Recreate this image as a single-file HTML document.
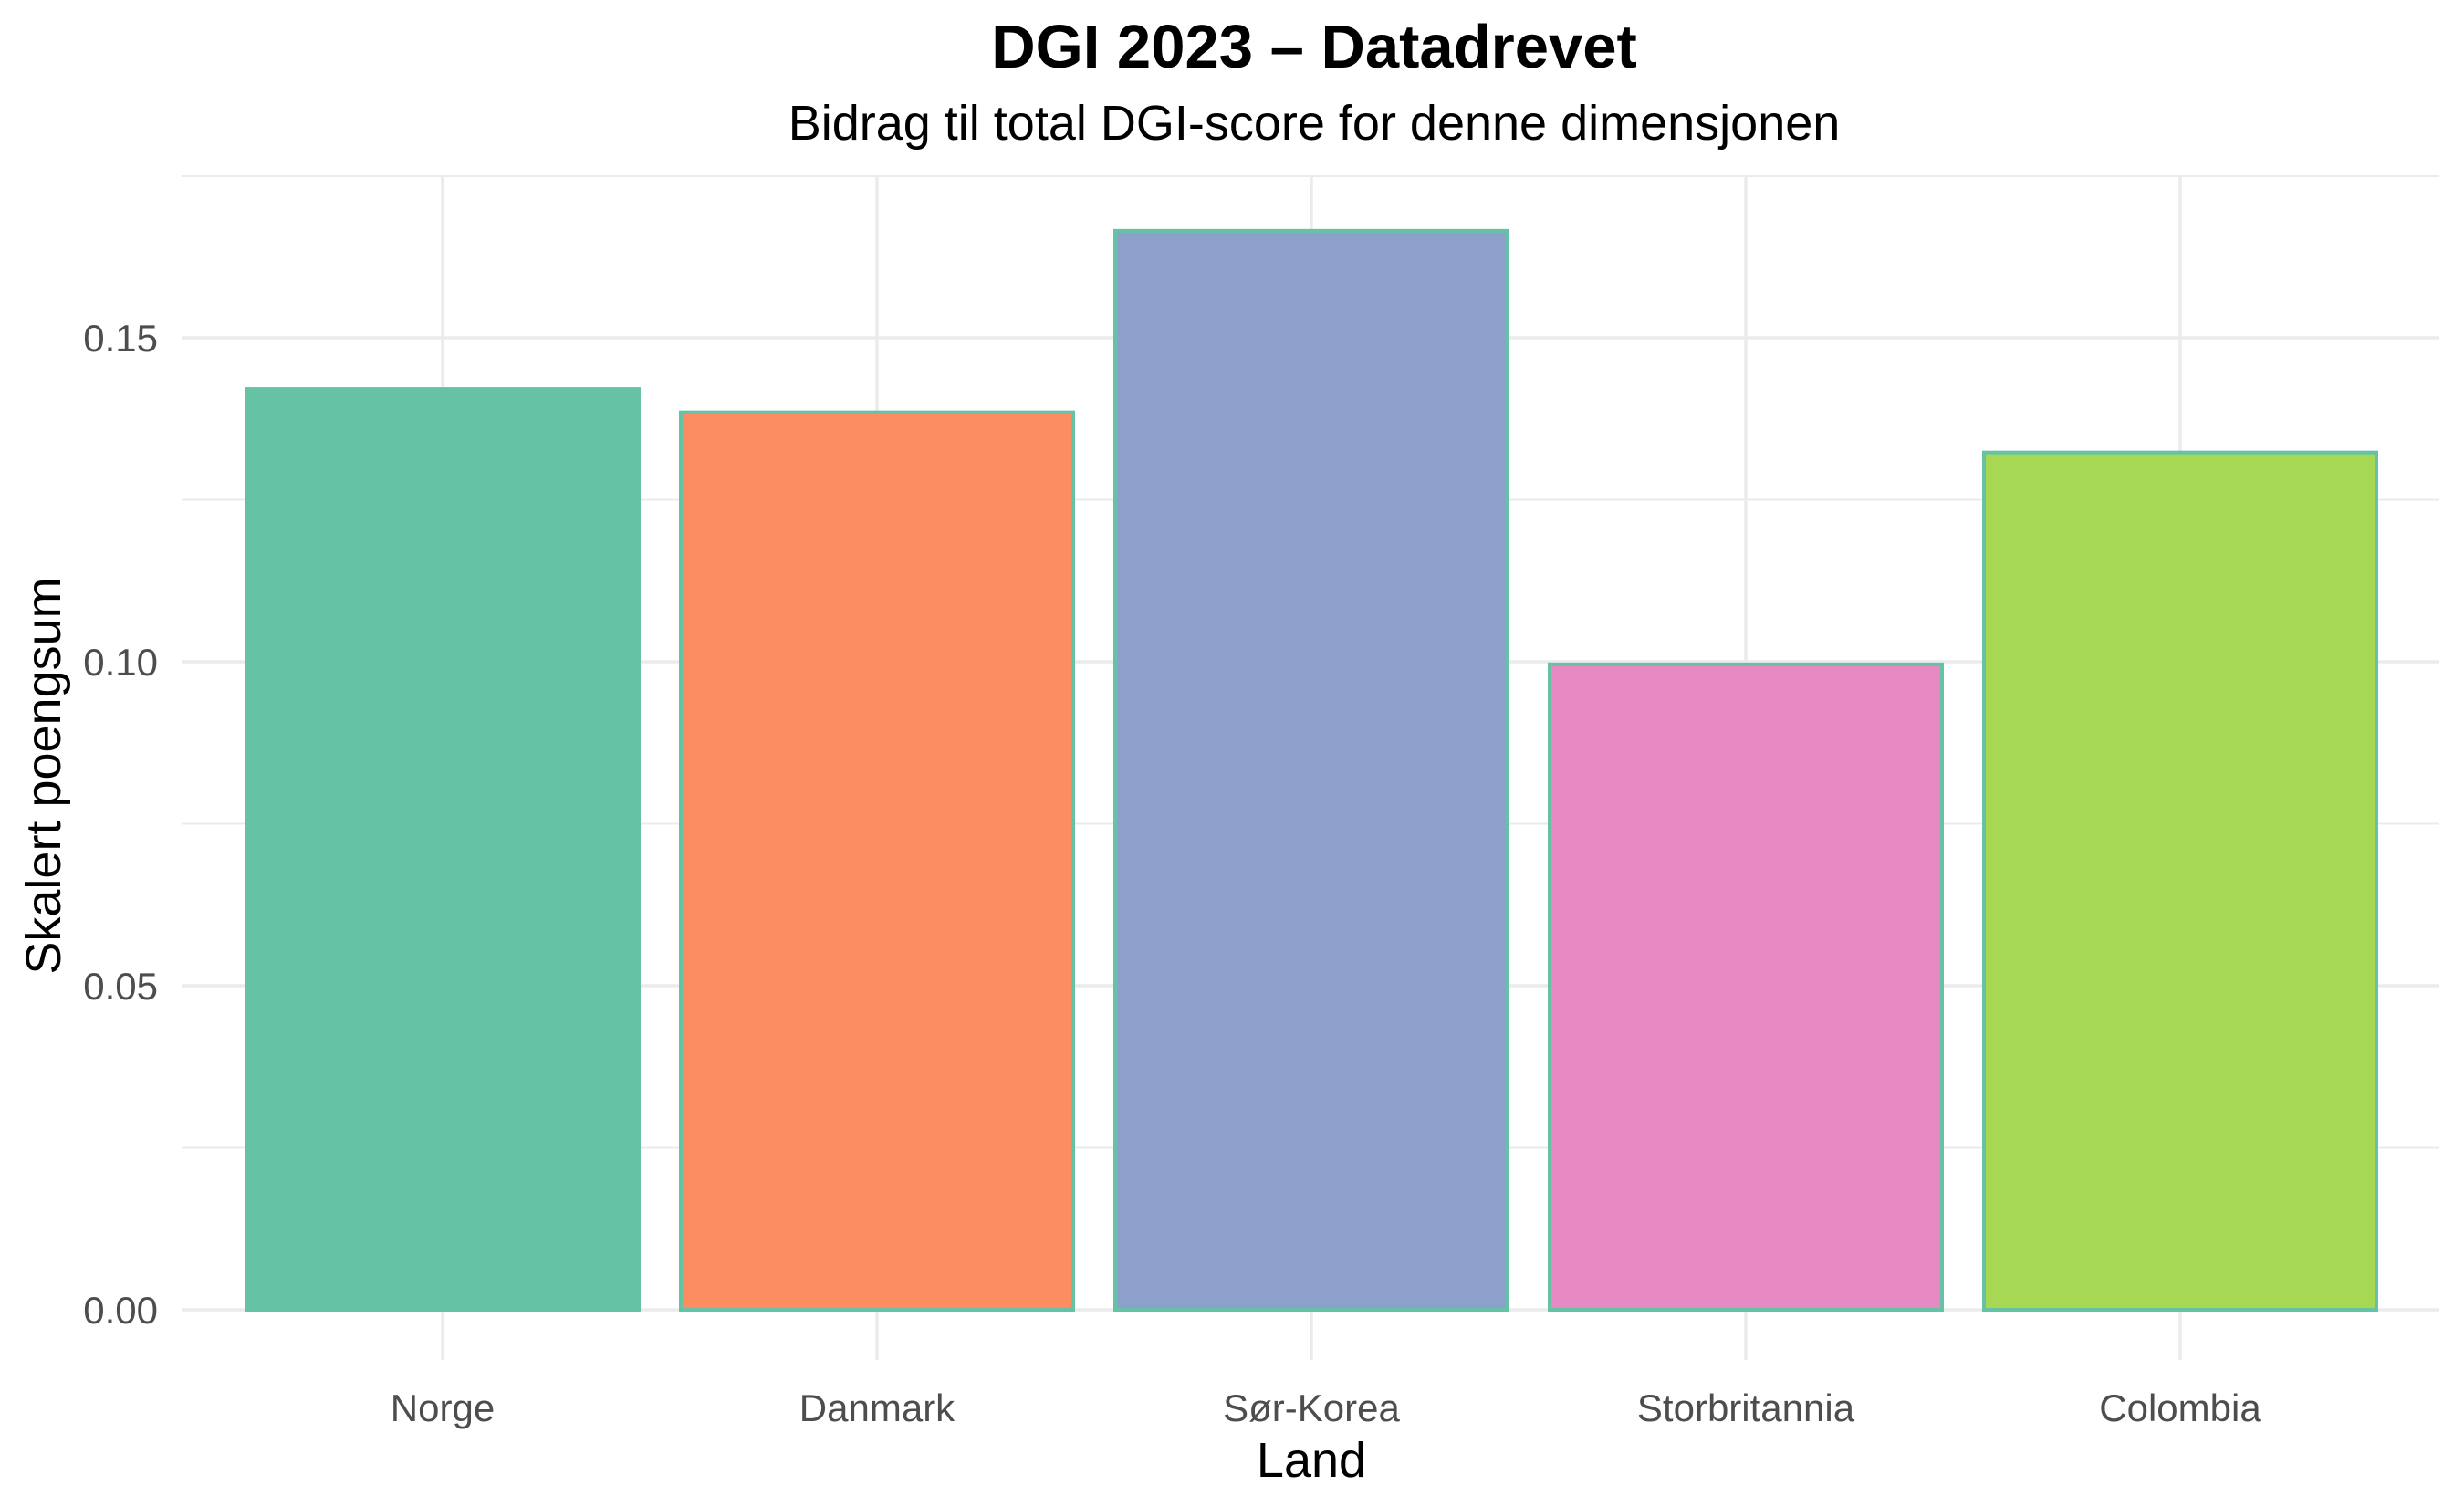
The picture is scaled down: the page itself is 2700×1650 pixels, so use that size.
<!DOCTYPE html>
<html><head><meta charset="utf-8"><style>
html,body{margin:0;padding:0;background:#fff;}
svg{display:block;font-family:"Liberation Sans",Arial,sans-serif;}
</style></head><body>
<svg id="chart" width="2700" height="1650" viewBox="0 0 2700 1650">
<text x="1440" y="74" text-anchor="middle" font-size="67" font-weight="bold" fill="#000">DGI 2023 – Datadrevet</text>
<text x="1440" y="153" text-anchor="middle" font-size="54" fill="#000">Bidrag til total DGI-score for denne dimensjonen</text>
<g id="grid"></g>
<g id="bars"></g>
<g id="yticks"></g>
<g id="xticks"></g>
<text x="1437" y="1618" text-anchor="middle" font-size="54" fill="#000">Land</text>
<text transform="translate(66,850) rotate(-90)" text-anchor="middle" font-size="54" fill="#000">Skalert poengsum</text>
</svg>
<script>
const categories = ["Norge","Danmark","Sør-Korea","Storbritannia","Colombia"];
const values = [0.1421, 0.1385, 0.1665, 0.0996, 0.1323];
const colors = ["#66c2a5","#fc8d62","#8da0cb","#e78ac3","#a6d854"];
const majorTicks = [0, 0.05, 0.10, 0.15];
const tickLabels = ["0.00","0.05","0.10","0.15"];
const minorTicks = [0.025, 0.075, 0.125, 0.175];

const NS="http://www.w3.org/2000/svg";
const pLeft=199,pRight=2673,pTop=193,pBottom=1490;
const y0=1435, pxPerUnit=(1435-370)/0.15;
const step=476, firstX=485, barW=430;
function yScale(v){return y0 - v*pxPerUnit;}
function xScale(i){return firstX + i*step;}
function mk(tag,attrs,parent){const e=document.createElementNS(NS,tag);for(const k in attrs)e.setAttribute(k,attrs[k]);parent.appendChild(e);return e;}

const grid=document.getElementById('grid');
minorTicks.forEach(t=>{const y=yScale(t);if(y<pTop)return;
 const l=mk('line',{x1:pLeft,x2:pRight,y1:y,y2:y,stroke:'#ebebeb','stroke-width':2},grid);
 
 });
const tl=mk('line',{x1:pLeft,x2:pRight,y1:pTop,y2:pTop,stroke:'#ebebeb','stroke-width':2},grid);


majorTicks.forEach(t=>{const y=yScale(t);
 const l=mk('line',{x1:pLeft,x2:pRight,y1:y,y2:y,stroke:'#ebebeb','stroke-width':3.5},grid);
 
 });
categories.forEach((c,i)=>{const x=xScale(i);
 const l=mk('line',{x1:x,x2:x,y1:pTop,y2:pBottom,stroke:'#ebebeb','stroke-width':3.5},grid);
 
 });

const bars=document.getElementById('bars');
values.forEach((v,i)=>{const x=xScale(i)-barW/2;const y=yScale(v);
 const r=mk('rect',{x:x,y:y,width:barW,height:y0-y,fill:colors[i],stroke:'#66c2a5','stroke-width':4},bars);
 
 });

const yt=document.getElementById('yticks');
majorTicks.forEach((t,i)=>{const e=mk('text',{x:173,y:yScale(t)+15,'text-anchor':'end','font-size':42,fill:'#4d4d4d'},yt);
 e.textContent=tickLabels[i];
 
 });
const xt=document.getElementById('xticks');
categories.forEach((c,i)=>{const e=mk('text',{x:xScale(i),y:1557,'text-anchor':'middle','font-size':42,fill:'#4d4d4d'},xt);
 e.textContent=c;
 
 });
</script>
</body></html>
